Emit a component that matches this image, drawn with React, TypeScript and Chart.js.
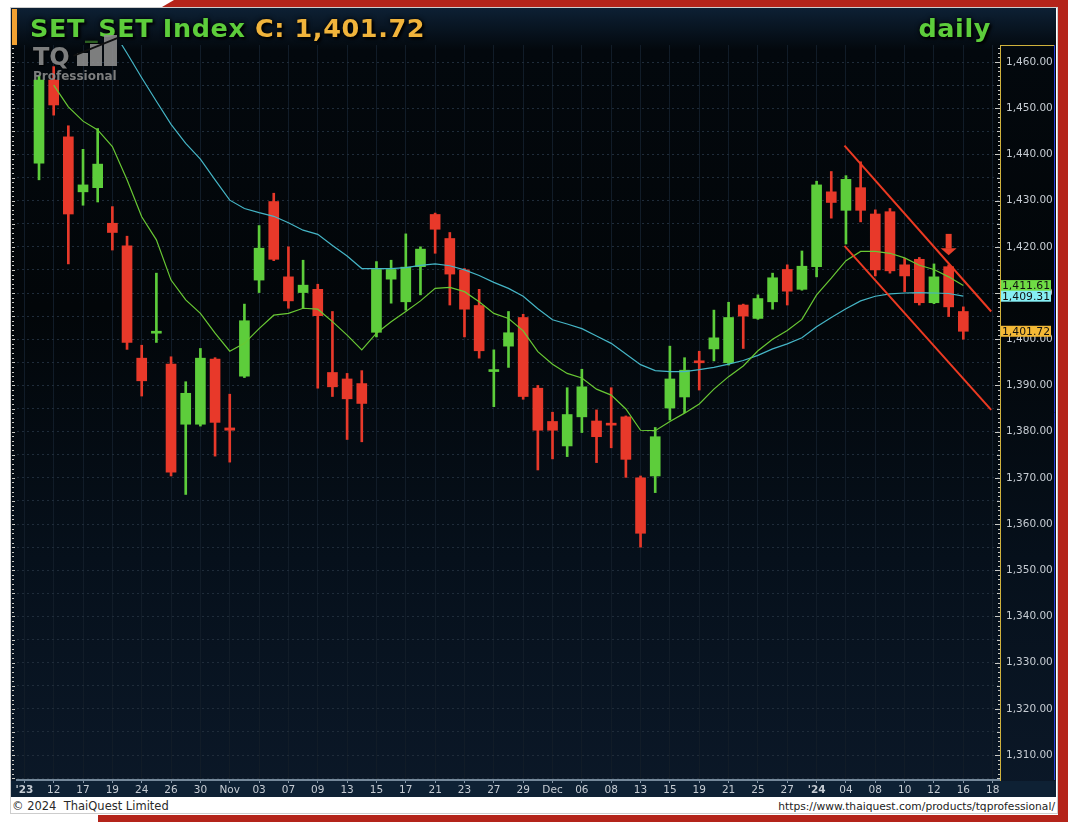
import React, { useEffect, useRef } from 'react';
import { Chart, registerables } from 'chart.js';

Chart.register(...registerables);

// ---------- DATA ----------
const axisDates = [
  'Oct 10', 'Oct 11', 'Oct 12', 'Oct 16', 'Oct 17', 'Oct 18', 'Oct 19', 'Oct 20', 'Oct 24', 'Oct 25',
  'Oct 26', 'Oct 27', 'Oct 30', 'Oct 31', 'Nov 01', 'Nov 02', 'Nov 03', 'Nov 06', 'Nov 07', 'Nov 08',
  'Nov 09', 'Nov 10', 'Nov 13', 'Nov 14', 'Nov 15', 'Nov 16', 'Nov 17', 'Nov 20', 'Nov 21', 'Nov 22',
  'Nov 23', 'Nov 24', 'Nov 27', 'Nov 28', 'Nov 29', 'Nov 30', 'Dec 01', 'Dec 04', 'Dec 06', 'Dec 07',
  'Dec 08', 'Dec 12', 'Dec 13', 'Dec 14', 'Dec 15', 'Dec 18', 'Dec 19', 'Dec 20', 'Dec 21', 'Dec 22',
  'Dec 25', 'Dec 26', 'Dec 27', 'Dec 28', 'Jan 02', 'Jan 03', 'Jan 04', 'Jan 05', 'Jan 08', 'Jan 09',
  'Jan 10', 'Jan 11', 'Jan 12', 'Jan 15', 'Jan 16', 'Jan 17', 'Jan 18',
];

const tickLabels = [
  "'23", '12', '17', '19', '24', '26', '30', 'Nov', '03', '07', '09', '13', '15', '17', '21', '23', '27',
  '29', 'Dec', '06', '08', '13', '15', '19', '21', '25', '27', "'24", '04', '08', '10', '12', '16', '18',
];

const sessionDates = [
  'Oct 11', 'Oct 12', 'Oct 16', 'Oct 17', 'Oct 18', 'Oct 19', 'Oct 20', 'Oct 24', 'Oct 25', 'Oct 26',
  'Oct 27', 'Oct 30', 'Oct 31', 'Nov 01', 'Nov 02', 'Nov 03', 'Nov 06', 'Nov 07', 'Nov 08', 'Nov 09',
  'Nov 10', 'Nov 13', 'Nov 14', 'Nov 15', 'Nov 16', 'Nov 17', 'Nov 20', 'Nov 21', 'Nov 22', 'Nov 23',
  'Nov 24', 'Nov 27', 'Nov 28', 'Nov 29', 'Nov 30', 'Dec 01', 'Dec 04', 'Dec 06', 'Dec 07', 'Dec 08',
  'Dec 12', 'Dec 13', 'Dec 14', 'Dec 15', 'Dec 18', 'Dec 19', 'Dec 20', 'Dec 21', 'Dec 22', 'Dec 25',
  'Dec 26', 'Dec 27', 'Dec 28', 'Jan 02', 'Jan 03', 'Jan 04', 'Jan 05', 'Jan 08', 'Jan 09', 'Jan 10',
  'Jan 11', 'Jan 12', 'Jan 15', 'Jan 16',
];

const opens = [
  1438.1, 1456.1, 1443.8, 1431.9, 1432.8, 1425.1, 1420.2, 1395.9, 1401.3, 1394.6,
  1381.6, 1381.6, 1395.7, 1380.8, 1392.0, 1412.8, 1429.8, 1413.5, 1410.1, 1410.8,
  1392.8, 1391.4, 1390.4, 1401.5, 1413.0, 1408.1, 1415.7, 1427.0, 1421.8, 1415.0,
  1407.3, 1393.0, 1398.5, 1404.7, 1389.4, 1382.2, 1376.9, 1383.2, 1382.3, 1381.8,
  1383.2, 1370.0, 1370.4, 1385.1, 1387.5, 1395.3, 1397.9, 1394.9, 1407.4, 1404.5,
  1408.1, 1415.1, 1410.8, 1415.7, 1431.9, 1427.9, 1432.8, 1427.1, 1427.6, 1416.1,
  1417.3, 1407.9, 1415.7, 1406.0,
];
const highs = [
  1457.0, 1459.0, 1446.2, 1441.1, 1445.6, 1428.7, 1422.3, 1398.7, 1414.3, 1396.2,
  1390.8, 1398.0, 1396.0, 1388.1, 1407.6, 1424.6, 1431.6, 1420.0, 1417.1, 1411.9,
  1406.0, 1392.6, 1393.2, 1416.8, 1417.1, 1422.8, 1420.0, 1427.3, 1423.1, 1415.3,
  1410.8, 1397.7, 1406.0, 1405.4, 1390.0, 1384.2, 1389.5, 1393.5, 1384.7, 1389.5,
  1383.4, 1370.4, 1380.9, 1398.5, 1396.0, 1397.4, 1406.3, 1408.0, 1407.6, 1409.6,
  1414.3, 1416.1, 1419.1, 1434.2, 1436.3, 1435.4, 1438.4, 1428.0, 1428.3, 1417.5,
  1417.7, 1416.3, 1416.1, 1407.0,
];
const lows = [
  1434.5, 1448.5, 1416.3, 1429.0, 1429.7, 1419.3, 1397.8, 1387.7, 1399.3, 1370.4,
  1366.4, 1381.2, 1374.7, 1373.4, 1391.7, 1410.1, 1417.0, 1406.7, 1406.7, 1389.4,
  1387.6, 1378.3, 1377.8, 1400.5, 1407.8, 1406.3, 1409.6, 1418.6, 1407.4, 1400.5,
  1395.9, 1385.4, 1393.9, 1387.0, 1371.7, 1374.1, 1374.6, 1379.8, 1373.3, 1376.5,
  1370.1, 1355.0, 1366.8, 1382.5, 1384.1, 1389.0, 1395.3, 1394.4, 1398.0, 1404.3,
  1406.5, 1407.4, 1410.6, 1413.5, 1426.2, 1420.6, 1425.4, 1413.7, 1414.3, 1410.3,
  1407.4, 1407.7, 1404.9, 1400.0,
];
const closes = [
  1456.1, 1450.7, 1427.1, 1433.4, 1437.9, 1423.1, 1399.3, 1391.0, 1401.7, 1371.2,
  1388.3, 1395.9, 1382.0, 1380.3, 1404.0, 1419.7, 1417.3, 1408.3, 1411.7, 1405.1,
  1389.7, 1387.1, 1386.1, 1415.1, 1415.1, 1415.6, 1419.5, 1423.8, 1414.1, 1406.5,
  1397.5, 1393.4, 1401.4, 1387.6, 1380.3, 1380.3, 1383.7, 1389.7, 1378.9, 1381.4,
  1374.0, 1358.0, 1378.9, 1391.4, 1393.3, 1394.9, 1400.3, 1404.7, 1405.0, 1408.8,
  1413.3, 1410.4, 1415.8, 1433.4, 1429.6, 1434.6, 1427.9, 1415.0, 1414.8, 1413.7,
  1407.9, 1413.5, 1407.0, 1401.72,
];

// short moving average (green)
const maShort = [
  null, 1455.0, 1450.3, 1447.2, 1445.3, 1441.7, 1434.5, 1426.5, 1421.5, 1412.8,
  1408.5, 1405.6, 1401.3, 1397.4, 1399.1, 1402.3, 1405.2, 1405.6, 1406.7, 1406.5,
  1403.8, 1400.9, 1397.7, 1401.3, 1403.8, 1406.0, 1408.3, 1411.0, 1411.2, 1410.3,
  1408.1, 1405.6, 1404.5, 1401.8, 1397.3, 1394.6, 1392.6, 1391.6, 1389.2, 1387.9,
  1384.9, 1380.3, 1380.2, 1382.2, 1384.0, 1386.0, 1389.2, 1391.9, 1394.2, 1397.5,
  1400.0, 1401.9, 1404.3, 1409.6, 1413.2, 1417.0, 1419.0, 1419.0, 1418.6, 1417.6,
  1416.0, 1415.1, 1413.5, 1411.61,
];
// long moving average (cyan)
const maLong = [
  null, null, null, null, null, 1467.0, 1461.9, 1456.6, 1451.5, 1446.5,
  1442.4, 1439.0, 1434.5, 1430.1, 1428.3, 1427.4, 1426.6, 1425.2, 1423.6, 1422.7,
  1420.3, 1418.0, 1415.3, 1415.3, 1415.3, 1415.5, 1416.0, 1416.3, 1415.9, 1415.0,
  1413.8, 1412.3, 1411.0, 1409.3, 1406.6, 1404.2, 1403.3, 1402.3, 1400.7, 1399.1,
  1396.8, 1394.5, 1393.2, 1393.0, 1393.0, 1393.4, 1393.9, 1394.6, 1395.4, 1396.5,
  1397.9, 1399.0, 1400.3, 1402.7, 1404.7, 1406.6, 1408.3, 1409.3, 1409.8, 1410.0,
  1410.1, 1410.0, 1409.9, 1409.31,
];

// drawn trend channel (x in axis slot units, y in index points)
const channelUpperX = [55.9, 65.9];
const channelUpperY = [1441.9, 1406.0];
const channelLowerX = [55.9, 65.9];
const channelLowerY = [1420.2, 1384.7];

// down-arrow marker: slot, top of shaft, tip
const arrowSlot = 63;
const arrowTop = 1422.8;
const arrowTip = 1418.2;

const tagValues = [1411.61, 1409.31, 1401.72];
const tagColors = ['#6fdc45', '#86eef4', '#f4b936'];

const yMin = 1304.6;
const yMax = 1463.68;

const titleSymbol = 'SET';
const titleName = 'SET Index ';
const titleClose = 'C: 1,401.72';
const titlePeriod = 'daily';

const GREEN = '#5dcd3b';
const RED = '#e8392a';
const FRAME_RED = '#b4241a';

const fmt = (v: number) =>
  v.toLocaleString('en-US', { minimumFractionDigits: 2, maximumFractionDigits: 2 });

const overlayPlugin = {
  id: 'overlay',
  afterDatasetsDraw(chart: any) {
    const { ctx, scales } = chart;
    const x = scales.x;
    const y = scales.y;
    const cx = x.getPixelForValue(arrowSlot);
    const yTop = y.getPixelForValue(arrowTop);
    const yTip = y.getPixelForValue(arrowTip);
    const headH = 7;
    ctx.save();
    ctx.fillStyle = '#ea3f2a';
    ctx.fillRect(cx - 3, yTop, 6, yTip - yTop - headH + 0.5);
    ctx.beginPath();
    ctx.moveTo(cx - 8, yTip - headH);
    ctx.lineTo(cx + 8, yTip - headH);
    ctx.lineTo(cx, yTip);
    ctx.closePath();
    ctx.fill();
    ctx.restore();
  },
  afterDraw(chart: any) {
    const { ctx, chartArea: a, scales, width } = chart;
    const y = scales.y;
    ctx.save();
    ctx.strokeStyle = '#cfb13c';
    ctx.lineWidth = 1;
    ctx.beginPath();
    ctx.moveTo(a.right, a.top + 0.5);
    ctx.lineTo(width - 2, a.top + 0.5);
    ctx.stroke();
    ctx.strokeStyle = '#2a3ed8';
    ctx.beginPath();
    ctx.moveTo(width - 1.5, a.top);
    ctx.lineTo(width - 1.5, a.bottom);
    ctx.stroke();
    ctx.fillStyle = '#c9c9c4';
    for (let v = Math.ceil(yMin); v <= Math.floor(yMax); v++) {
      const py = Math.round(y.getPixelForValue(v));
      const lenR = v % 10 === 0 ? 5 : v % 5 === 0 ? 3 : 2;
      ctx.fillRect(a.right - lenR, py, lenR, 1);
      const lenL = v % 5 === 0 ? 3 : 2;
      ctx.fillRect(a.left - 5, py, lenL, 1);
    }
    ctx.font = '10.8px "DejaVu Sans"';
    ctx.textBaseline = 'middle';
    ctx.textAlign = 'left';
    tagValues.forEach((v, i) => {
      const py = y.getPixelForValue(v);
      ctx.fillStyle = tagColors[i];
      ctx.fillRect(a.right + 1, py - 5.5, 50, 11);
      ctx.fillStyle = '#111';
      ctx.fillText(fmt(v), a.right + 2, py + 0.5);
    });
    ctx.restore();
  },
};

export default function App() {
  const ref = useRef<HTMLCanvasElement | null>(null);

  useEffect(() => {
    if (!ref.current) return;
    const slots = sessionDates.map((d) => axisDates.indexOf(d));
    const colors = closes.map((c, k) => (c >= opens[k] ? GREEN : RED));

    const chart = new Chart(ref.current, {
      type: 'bar',
      data: {
        datasets: [
          {
            type: 'bar',
            label: 'wick',
            data: slots.map((s, k) => ({ x: s, y: [lows[k], highs[k]] })) as any,
            backgroundColor: colors,
            barThickness: 2,
            grouped: false,
            order: 4,
          } as any,
          {
            type: 'bar',
            label: 'body',
            data: slots.map((s, k) => ({ x: s, y: [opens[k], closes[k]] })) as any,
            backgroundColor: colors,
            barThickness: 10,
            minBarLength: 2,
            grouped: false,
            order: 3,
          } as any,
          {
            type: 'line',
            label: 'MA long',
            data: slots.map((s, k) => ({ x: s, y: maLong[k] })) as any,
            borderColor: '#45b5c6',
            borderWidth: 1.2,
            pointRadius: 0,
            order: 2,
          } as any,
          {
            type: 'line',
            label: 'MA short',
            data: slots.map((s, k) => ({ x: s, y: maShort[k] })) as any,
            borderColor: '#69c834',
            borderWidth: 1.2,
            pointRadius: 0,
            order: 1,
          } as any,
          {
            type: 'line',
            label: 'channel upper',
            data: channelUpperX.map((xv, k) => ({ x: xv, y: channelUpperY[k] })) as any,
            borderColor: '#ec3a22',
            borderWidth: 2,
            pointRadius: 0,
            order: 0,
          } as any,
          {
            type: 'line',
            label: 'channel lower',
            data: channelLowerX.map((xv, k) => ({ x: xv, y: channelLowerY[k] })) as any,
            borderColor: '#ec3a22',
            borderWidth: 2,
            pointRadius: 0,
            order: 0,
          } as any,
        ],
      },
      options: {
        animation: false,
        responsive: false,
        devicePixelRatio: 1,
        events: [],
        layout: { padding: { left: 6, top: 37, right: 0, bottom: 0 } },
        plugins: { legend: { display: false }, tooltip: { enabled: false }, title: { display: false } },
        scales: {
          x: {
            type: 'linear',
            position: 'bottom',
            min: -0.5,
            max: 66.5,
            offset: false,
            afterBuildTicks: (s: any) => {
              s.ticks = tickLabels.map((_, k) => ({ value: 2 * k }));
            },
            afterFit: (s: any) => {
              s.height = 17;
            },
            ticks: {
              autoSkip: false,
              maxRotation: 0,
              minRotation: 0,
              padding: 1,
              color: '#c6ccd3',
              font: (c: any) => ({
                family: 'DejaVu Sans',
                size: 10.5,
                weight: String(tickLabels[c.index] ?? '').startsWith("'") ? 'bold' : 'normal',
              }),
              callback: (_v: any, i: number) => tickLabels[i] ?? '',
            },
            grid: { color: '#111c28', lineWidth: 1, offset: false, drawTicks: true, tickLength: 3, tickColor: '#8898a8' },
            border: { display: true, color: '#74889a', width: 2 },
          } as any,
          y: {
            type: 'linear',
            position: 'right',
            min: yMin,
            max: yMax,
            afterFit: (s: any) => {
              s.width = 56;
            },
            ticks: {
              stepSize: 5,
              includeBounds: false,
              padding: 6,
              color: '#c6ccd3',
              font: { family: 'DejaVu Sans', size: 10.5 },
              callback: (v: any) => (Number(v) % 10 === 0 ? fmt(Number(v)) : ''),
            },
            grid: { color: '#1f2c3a', lineWidth: 1, drawTicks: false },
            border: { display: true, color: '#cfb13c', width: 1, dash: [2, 3] },
          } as any,
        },
      },
      plugins: [overlayPlugin],
    });
    return () => chart.destroy();
  }, []);

  const abs = (o: React.CSSProperties): React.CSSProperties => ({ position: 'absolute', ...o });
  const titleFont: React.CSSProperties = {
    fontFamily: "'DejaVu Sans', sans-serif",
    fontWeight: 700,
    fontSize: 25.5,
    lineHeight: '25.5px',
    letterSpacing: 0.6,
    whiteSpace: 'nowrap',
    textShadow: '2px 2px 3px #000, 0 0 5px #000',
  };

  return (
    <div style={abs({ left: 0, top: 0, width: 1068, height: 822, background: '#ffffff', overflow: 'hidden' })}>
      {/* red frame */}
      <div style={abs({ left: 0, top: 0, width: 1068, height: 7, background: FRAME_RED, clipPath: 'polygon(174px 0, 1068px 0, 1068px 7px, 162px 7px)' })} />
      <div style={abs({ left: 1058, top: 0, width: 10, height: 822, background: FRAME_RED })} />
      <div style={abs({ left: 98, top: 815, width: 970, height: 7, background: FRAME_RED })} />
      {/* panel */}
      <div style={abs({ left: 10, top: 7, width: 1048, height: 807, border: '1px solid #cdcdcd', boxSizing: 'border-box', background: '#fff' })} />
      <div
        style={abs({
          left: 11,
          top: 8,
          width: 1045,
          height: 789,
          background: 'linear-gradient(to bottom, #0d2034 0px, #03080d 42px, #020609 300px, #06101b 550px, #0b1828 789px)',
        })}
      />
      <div style={abs({ left: 11, top: 781, width: 1045, height: 16, background: '#0e2134' })} />
      <canvas ref={ref} width={1045} height={789} style={abs({ left: 11, top: 8, width: 1045, height: 789 })} />
      {/* orange marker */}
      <div style={abs({ left: 12, top: 9, width: 5, height: 36, background: '#f2a132' })} />
      {/* title */}
      <div style={abs({ left: 30, top: 16, ...titleFont })}>
        <span style={{ color: GREEN }}>{titleSymbol}</span>
        <span style={{ color: '#2c5f22' }}>_</span>
        <span style={{ color: GREEN }}>{titleName}</span>
        <span style={{ color: '#f1b43b' }}>{titleClose}</span>
      </div>
      <div style={abs({ right: 77, top: 16, ...titleFont, color: GREEN })}>{titlePeriod}</div>
      {/* logo */}
      <div style={abs({ left: 33, top: 35, width: 90, height: 50, opacity: 0.88, pointerEvents: 'none' })}>
        <div style={abs({ left: 0, top: 10, fontFamily: "'DejaVu Sans', sans-serif", fontWeight: 700, fontSize: 24, lineHeight: '24px', color: '#8f8f8f', textShadow: '1px 1px 1px #000' })}>TQ</div>
        <div style={abs({ left: 44, top: 18, width: 11, height: 13, background: '#8f8f8f' })} />
        <div style={abs({ left: 57, top: 9, width: 12, height: 22, background: '#8f8f8f' })} />
        <div style={abs({ left: 71, top: 0, width: 13, height: 31, background: '#8f8f8f' })} />
        <div style={abs({ left: 40, top: 20, width: 48, height: 2, background: '#111', transform: 'rotate(-22deg)', transformOrigin: '0 0' })} />
        <div style={abs({ left: 0, top: 34.6, fontFamily: "'DejaVu Sans', sans-serif", fontWeight: 700, fontSize: 12, lineHeight: '12px', color: '#8f8f8f' })}>Professional</div>
      </div>
      {/* footer */}
      <div style={abs({ left: 12, top: 799, fontFamily: "'DejaVu Sans', sans-serif", fontSize: 11.5, lineHeight: '14px', color: '#2a2a2a', whiteSpace: 'pre' })}>
        {'© 2024  ThaiQuest Limited'}
      </div>
      <div style={abs({ right: 13, top: 800, fontFamily: "'DejaVu Sans', sans-serif", fontSize: 10.7, lineHeight: '13px', color: '#222', whiteSpace: 'nowrap' })}>
        https://www.thaiquest.com/products/tqprofessional/
      </div>
    </div>
  );
}
